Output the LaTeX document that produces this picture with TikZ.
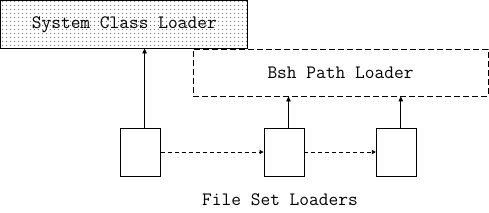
\documentclass[tikz,border=0pt]{standalone}
\usepackage{tikz}
\usetikzlibrary{arrows.meta,patterns.meta}
\tikzset{loader/.style={draw,line width=0.8pt,inner sep=0pt,
  font=\ttfamily\fontsize{18.9}{20}\selectfont},
  fileset/.style={loader,minimum width=40pt,minimum height=48pt},
  uparrow/.style={-{Triangle[length=5pt,width=4.5pt]},line width=0.8pt},
  chain/.style={-{Triangle[length=4pt,width=4pt]},line width=0.8pt,dash pattern=on 4pt off 3pt}}

\begin{document}
\begin{tikzpicture}[x=1pt,y=-1pt]
\useasboundingbox (0,0) rectangle (489,212);
\node[loader,minimum width=247pt,minimum height=47.5pt,
  pattern={Dots[distance=4pt,radius=0.5pt]}] (sys) at (124.3,24.3) {};
\node[font=\ttfamily\fontsize{18.9}{20}\selectfont] (systext) at (sys.center) {System Class Loader};
\node[loader,minimum width=295pt,minimum height=47pt,dash pattern=on 6pt off 3pt] (bsh)
  at (340.5,72.5) {Bsh Path Loader};
\node[fileset] (fa) at (140.3,152) {};
\node[fileset] (fb) at (284,152) {};
\node[fileset] (fc) at (396.3,152) {};
\node[font=\ttfamily\fontsize{18.9}{20}\selectfont] (label) at (280,200) {File Set Loaders};
\draw[uparrow] ([xshift=4.3pt]fa.north) -- ([xshift=4.3pt]fa.north |- sys.south);
\draw[uparrow] ([xshift=4.5pt]fb.north) -- ([xshift=4.5pt]fb.north |- bsh.south);
\draw[uparrow] ([xshift=4.5pt]fc.north) -- ([xshift=4.5pt]fc.north |- bsh.south);
\draw[chain] (fa) -- (fb);
\draw[chain] (fb) -- (fc);
\end{tikzpicture}
\end{document}
